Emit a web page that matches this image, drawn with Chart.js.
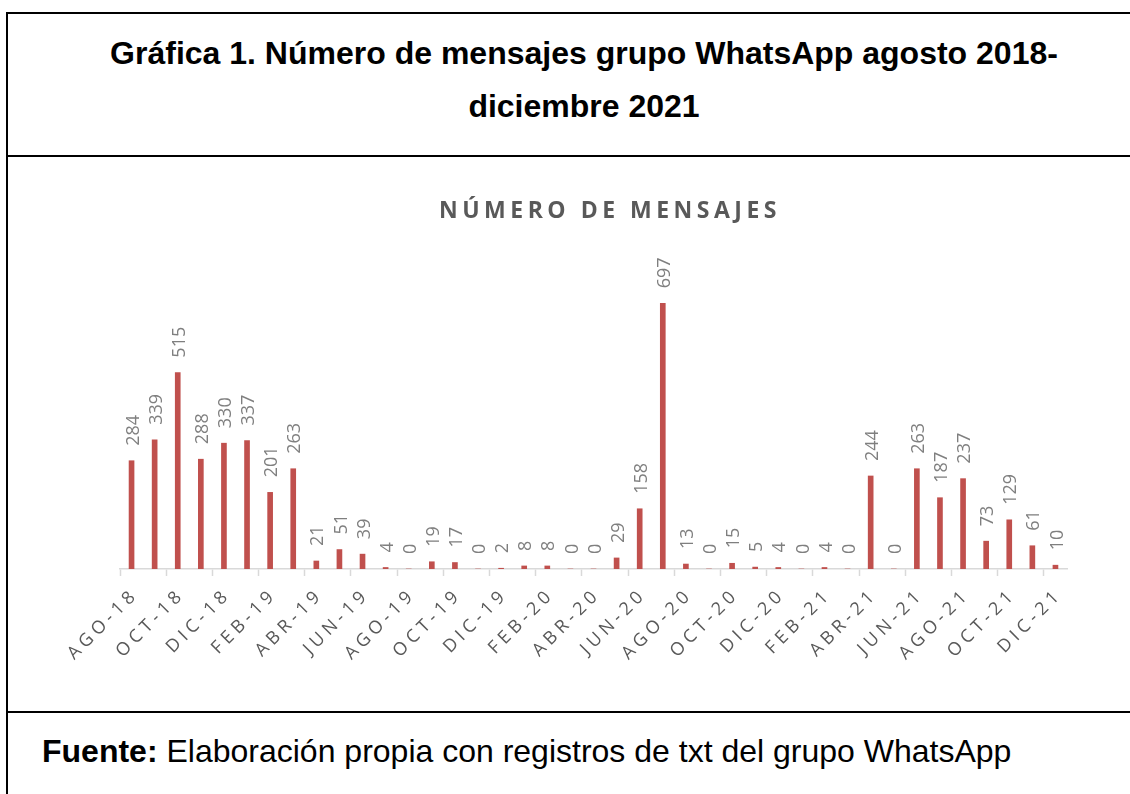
<!DOCTYPE html>
<html lang="es">
<head>
<meta charset="utf-8">
<title>Gráfica 1. Número de mensajes grupo WhatsApp</title>
<script src="https://cdn.jsdelivr.net/npm/chart.js@4.4.0/dist/chart.umd.min.js"></script>
<style>
  html, body { margin: 0; padding: 0; background: #fff; width: 1130px; height: 794px; overflow: hidden; }
  .frame { position: absolute; left: 6px; top: 12px; width: 1160px; height: 800px; border-left: 2px solid #000; border-top: 2px solid #000; }
  .sep { position: absolute; left: 6px; width: 1160px; height: 2px; background: #000; }
  .head { position: absolute; left: 8px; top: 27px; width: 1152px; text-align: center;
          font: bold 32px "Liberation Sans", Arial, sans-serif; line-height: 53px; color: #000; }
  .foot { position: absolute; left: 42px; top: 733px; font: 32px "Liberation Sans", Arial, sans-serif; color: #000; white-space: nowrap; }
  .chart-box { position: absolute; left: 8px; top: 157px; width: 1200px; height: 554px; }
</style>
</head>
<body>
<div class="frame"></div>
<div class="sep" style="top:155px"></div>
<div class="sep" style="top:711px"></div>
<div class="head">Gráfica 1. Número de mensajes grupo WhatsApp agosto 2018-<br>diciembre 2021</div>
<div class="chart-box"><canvas id="grafica"></canvas></div>
<div class="foot"><b>Fuente:</b> Elaboración propia con registros de txt del grupo WhatsApp</div>

<script>
// --- Datos ---
const chartTitle = 'NÚMERO DE MENSAJES';
const meses = [
  'AGO-18', 'SEP-18', 'OCT-18', 'NOV-18', 'DIC-18',
  'ENE-19', 'FEB-19', 'MAR-19', 'ABR-19', 'MAY-19', 'JUN-19', 'JUL-19',
  'AGO-19', 'SEP-19', 'OCT-19', 'NOV-19', 'DIC-19',
  'ENE-20', 'FEB-20', 'MAR-20', 'ABR-20', 'MAY-20', 'JUN-20', 'JUL-20',
  'AGO-20', 'SEP-20', 'OCT-20', 'NOV-20', 'DIC-20',
  'ENE-21', 'FEB-21', 'MAR-21', 'ABR-21', 'MAY-21', 'JUN-21', 'JUL-21',
  'AGO-21', 'SEP-21', 'OCT-21', 'NOV-21', 'DIC-21'
];
const mensajes = [
  284, 339, 515, 288, 330,
  337, 201, 263, 21, 51, 39, 4,
  0, 19, 17, 0, 2,
  8, 8, 0, 0, 29, 158, 697,
  13, 0, 15, 5, 4,
  0, 4, 0, 244, 0, 263, 187,
  237, 73, 129, 61, 10
];

Chart.defaults.font.family = '"Open Sans", sans-serif';

// title + letter spacing for tick labels, values drawn vertically over each bar
const barValues = {
  id: 'barValues',
  beforeDraw(chart) {
    const ctx = chart.ctx;
    ctx.save();
    ctx.letterSpacing = '4.5px';
    ctx.font = 'bold 23px "Open Sans"';
    ctx.fillStyle = '#595959';
    ctx.textAlign = 'center';
    ctx.textBaseline = 'middle';
    ctx.fillText(chartTitle, chart.width / 2 + 2, 54);
    ctx.restore();
    ctx.letterSpacing = '4.5px';
  },
  afterDatasetsDraw(chart) {
    const ctx = chart.ctx;
    const meta = chart.getDatasetMeta(0);
    ctx.save();
    ctx.letterSpacing = '0px';
    ctx.font = '18px "Open Sans"';
    ctx.fillStyle = '#7f7f7f';
    ctx.textAlign = 'left';
    ctx.textBaseline = 'middle';
    meta.data.forEach((bar, i) => {
      ctx.save();
      ctx.translate(bar.x + 2, bar.y - 15);
      ctx.rotate(-Math.PI / 2);
      ctx.fillText(String(mensajes[i]), 0, 0);
      ctx.restore();
    });
    ctx.restore();
  },
  afterDraw(chart) {
    chart.ctx.letterSpacing = '0px';
  }
};

const ctx = document.getElementById('grafica').getContext('2d');
const grafica = new Chart(ctx, {
  type: 'bar',
  data: {
    labels: meses,
    datasets: [{
      label: 'Número de mensajes',
      data: mensajes,
      backgroundColor: '#c0504d',
      barThickness: 5
    }]
  },
  options: {
    responsive: true,
    maintainAspectRatio: false,
    animation: false,
    layout: { padding: { top: 107, left: 112, right: 141, bottom: 0 } },
    plugins: {
      legend: { display: false },
      title: { display: false },
      tooltip: { enabled: false }
    },
    scales: {
      x: {
        offset: true,
        grid: {
          offset: true,
          drawOnChartArea: false,
          tickLength: 7,
          tickWidth: 1.5,
          tickColor: (c) => (c.index % 2 === 0 ? '#d9d9d9' : 'rgba(0,0,0,0)')
        },
        border: { color: '#d9d9d9', width: 1.5 },
        ticks: {
          autoSkip: false,
          maxRotation: 45,
          minRotation: 45,
          padding: 8,
          labelOffset: 4,
          color: '#595959',
          font: { size: 18 },
          callback: (v, i) => (i % 2 === 0 ? meses[i] : '')
        },
        afterFit: (scale) => { scale.height = 142; }
      },
      y: { display: false, min: 0, max: 800 }
    }
  },
  plugins: [barValues]
});
</script>
</body>
</html>
